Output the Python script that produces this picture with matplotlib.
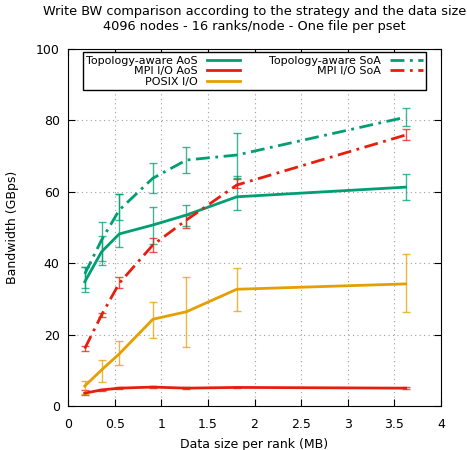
import matplotlib.pyplot as plt

# Tamaño de datos por rank (MB)
tamanos = [0.18, 0.36, 0.55, 0.91, 1.27, 1.81, 3.62]

# Topology-aware AoS
topo_aos = [34.8, 43.2, 48.2, 50.7, 53.5, 58.6, 61.3]
topo_aos_lo = [32.0, 39.5, 44.6, 45.5, 50.5, 54.9, 57.7]
topo_aos_hi = [39.0, 47.5, 59.4, 55.8, 56.3, 64.4, 65.0]

# Topology-aware SoA
topo_soa = [37.0, 46.5, 54.9, 63.8, 68.9, 70.3, 80.9]
topo_soa_lo = [33.0, 40.5, 52.0, 59.6, 65.2, 64.0, 78.4]
topo_soa_hi = [39.0, 51.5, 59.4, 68.0, 72.5, 76.4, 83.4]

# MPI I/O AoS
mpi_aos = [3.6, 4.5, 5.0, 5.3, 5.0, 5.2, 5.0]
mpi_aos_lo = [3.0, 4.2, 4.8, 5.1, 4.8, 5.0, 4.8]
mpi_aos_hi = [4.5, 4.8, 5.2, 5.5, 5.2, 5.4, 5.2]

# MPI I/O SoA
mpi_soa = [16.1, 25.5, 34.4, 45.1, 52.1, 61.9, 75.9]
mpi_soa_lo = [15.3, 25.0, 33.0, 43.0, 50.0, 61.0, 74.5]
mpi_soa_hi = [16.8, 26.0, 36.0, 47.0, 53.5, 63.5, 77.5]

# POSIX I/O
posix = [5.6, 10.1, 14.6, 24.3, 26.4, 32.7, 34.2]
posix_lo = [3.5, 6.8, 11.5, 19.0, 16.4, 26.7, 26.2]
posix_hi = [7.0, 12.9, 18.3, 29.2, 36.0, 38.6, 42.5]

verde = '#009e73'
rojo = '#e51e10'
naranja = '#e69f00'
punto_raya = (0, (5, 2, 1, 2))

fig = plt.figure(figsize=(4.67, 4.5), dpi=100)
ax = fig.add_axes([68 / 467, 1 - 406 / 450, (441 - 68) / 467, (406 - 49) / 450])

series = [
    ('Topology-aware AoS', topo_aos, topo_aos_lo, topo_aos_hi, verde, '-'),
    ('MPI I/O AoS', mpi_aos, mpi_aos_lo, mpi_aos_hi, rojo, '-'),
    ('POSIX I/O', posix, posix_lo, posix_hi, naranja, '-'),
    ('Topology-aware SoA', topo_soa, topo_soa_lo, topo_soa_hi, verde, punto_raya),
    ('MPI I/O SoA', mpi_soa, mpi_soa_lo, mpi_soa_hi, rojo, punto_raya),
]

for nombre, y, lo, hi, color, estilo in series:
    err = [[v - l for v, l in zip(y, lo)], [h - v for v, h in zip(y, hi)]]
    ax.errorbar(tamanos, y, yerr=err, fmt='none', ecolor=color, elinewidth=1,
                capsize=3, capthick=1, alpha=0.75, zorder=2)
    ax.plot(tamanos, y, color=color, linestyle=estilo, linewidth=2, label=nombre, zorder=3)

ax.set_xlim(0, 4)
ax.set_ylim(0, 100)
ax.set_xticks([0, 0.5, 1, 1.5, 2, 2.5, 3, 3.5, 4])
ax.set_xticklabels(['0', '0.5', '1', '1.5', '2', '2.5', '3', '3.5', '4'])
ax.set_yticks([0, 20, 40, 60, 80, 100])
ax.tick_params(direction='in', top=True, right=True, labelsize=9, length=5)
ax.tick_params(axis='x', pad=9)
ax.tick_params(axis='y', pad=6)
ax.grid(True, linestyle=(0, (1, 3)), color='#a0a0a0', linewidth=0.8)
ax.set_axisbelow(True)

ax.set_xlabel('Data size per rank (MB)', fontsize=9, labelpad=5)
ax.set_ylabel('Bandwidth (GBps)', fontsize=9, labelpad=12)
ax.set_title('Write BW comparison according to the strategy and the data size\n'
             '4096 nodes - 16 ranks/node - One file per pset', fontsize=9.25, pad=14)

leg = ax.legend(loc='upper center', ncol=2, markerfirst=False, fontsize=8,
                frameon=True, fancybox=False, edgecolor='black', framealpha=1,
                handlelength=3.0, columnspacing=2.6, labelspacing=0.05,
                borderpad=0.3, borderaxespad=0.3, bbox_to_anchor=(0.5, 1.0))
leg.get_frame().set_linewidth(1)

fig.savefig('out.png', dpi=100)
